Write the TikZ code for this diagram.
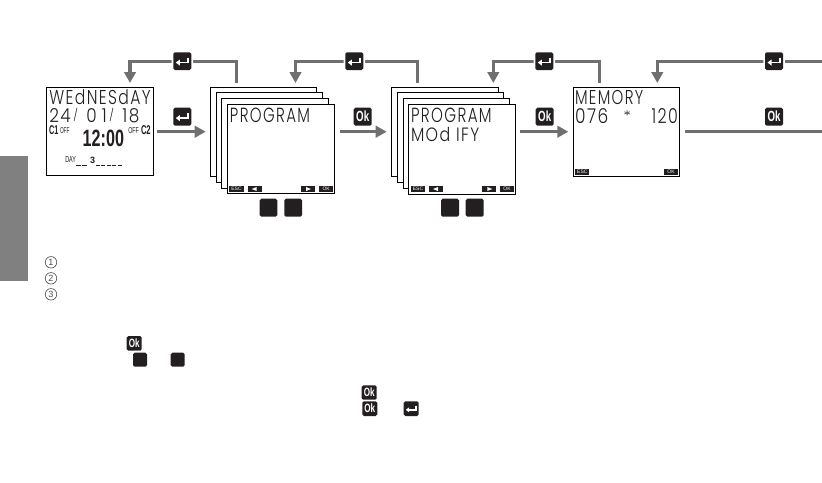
\documentclass[tikz,border=0pt]{standalone}
\usepackage{fontspec}
\usetikzlibrary{arrows.meta,calc}
\setmainfont{Liberation Sans}
\newfontfamily\lcdf[LetterSpace=9]{Poppins Light}
\definecolor{flow}{HTML}{6F6F6F}
\definecolor{keyk}{HTML}{231F20}
\definecolor{tab}{HTML}{808080}
\tikzset{
  x=1pt,y=-1pt,
  sheet/.style={draw=black,fill=white,line width=.9pt,inner sep=0pt},
  keybox/.style={fill=keyk,rounded corners=1.6pt,inner sep=0pt,preaction={draw=white,line width=3.5pt,rounded corners=1.6pt}},
  soft/.style={fill=keyk,inner sep=0pt,text=white},
  txt/.style={inner sep=0pt,text=keyk},
  flowline/.style={draw=flow,line width=3.5pt},
  flowarrow/.style={flowline,-{Triangle[length=11pt,width=11.5pt]}},
  num/.style={circle,draw=black!70,line width=.6pt,text=black!70,minimum size=11.5pt,inner sep=0pt,font=\fontsize{9}{9}\selectfont}
}
\newcommand{\rectnode}[6]{%
  \pgfmathsetmacro{\rw}{#5-#3}\pgfmathsetmacro{\rh}{#6-#4}%
  \pgfmathsetmacro{\rcx}{(#5+#3)/2}\pgfmathsetmacro{\rcy}{(#6+#4)/2}%
  \node[#1,minimum width=\rw pt,minimum height=\rh pt] (#2) at (\rcx,\rcy) {};}
\newcommand{\fittext}[7]{%
  \pgfmathsetmacro{\rw}{#5-#3}\pgfmathsetmacro{\rh}{#6-#4}%
  \pgfmathsetmacro{\rcx}{(#5+#3)/2}\pgfmathsetmacro{\rcy}{(#6+#4)/2}%
  \node[#1] (#2) at (\rcx,\rcy) {\resizebox*{\rw pt}{\rh pt}{#7}};}
\newcommand{\lcd}[6]{\fittext{txt}{#1}{#2}{#3}{#4}{#5}{\lcdf #6}}
\newcommand{\okkey}[5]{%
  \rectnode{keybox}{#1}{#2}{#3}{#4}{#5}%
  \pgfmathsetmacro{\kw}{(#4-#2)*.72}\pgfmathsetmacro{\kh}{(#5-#3)*.6}%
  \node[inner sep=0pt,text=white] at (#1) {\resizebox*{\kw pt}{\kh pt}{\bfseries Ok}};}
\newcommand{\enterkey}[5]{%
  \rectnode{keybox}{#1}{#2}{#3}{#4}{#5}%
  \pgfmathsetmacro{\ks}{(#4-#2)/18}%
  \begin{scope}[shift={(#1)},scale=\ks]
    \draw[white,line width=1.7pt] (6,-3.4) -- (6,1.4) -- (-3,1.4);
    \fill[white] (-6.5,1.4) -- (-2.5,-1.6) -- (-2.5,4.4) -- cycle;
  \end{scope}}
\newcommand{\softlabel}[6]{%
  \rectnode{soft}{#1}{#2}{#3}{#4}{#5}%
  \node[inner sep=0pt,text=white] at (#1) {\fontsize{5}{5}\selectfont #6};}
\newcommand{\softarrowL}[5]{%
  \rectnode{soft}{#1}{#2}{#3}{#4}{#5}%
  \fill[white] ([xshift=-3pt]#1.center) -- ++(5,-2) -- ++(0,4) -- cycle;}
\newcommand{\softarrowR}[5]{%
  \rectnode{soft}{#1}{#2}{#3}{#4}{#5}%
  \fill[white] ([xshift=3pt]#1.center) -- ++(-5,-2) -- ++(0,4) -- cycle;}
\newcommand{\lslash}{\kern.15em\raisebox{.18em}{\scalebox{.62}{/}}\kern.5em}
\begin{document}
\begin{tikzpicture}
\useasboundingbox (0,0) rectangle (822,482);
\fill[tab] (0,156) rectangle (28,281);

% first display
\rectnode{sheet}{home}{46.7}{87.7}{153.7}{175.3}
\lcd{homeA}{49.3}{90}{150.7}{105}{WEdNESdAY}
\lcd{homeB}{49.3}{108.3}{139.3}{123.3}{24\lslash 0\kern.3em 1\lslash 18}
\fittext{txt}{cOne}{49}{126}{58.3}{135}{\bfseries C1}
\fittext{txt}{offA}{60}{128}{69.5}{134}{OFF}
\fittext{txt}{clock}{82.7}{130}{124}{146.7}{\bfseries 12:00}
\fittext{txt}{offB}{128.3}{128}{139}{134}{OFF}
\fittext{txt}{cTwo}{141}{126}{150.7}{135}{\bfseries C2}
\fittext{txt}{dayL}{65.3}{156.7}{76}{162.7}{DAY}
\fittext{txt}{dayN}{90}{157.5}{95}{164}{\bfseries 3}
\coordinate (dashA) at (76,165.5);
\coordinate (dashB) at (88.5,165.5);
\coordinate (dashC) at (96,165.5);
\coordinate (dashD) at (121.7,165.5);
\draw[keyk,line width=.8pt,dash pattern=on 5pt off 1.4pt] (dashA) -- (dashB);
\draw[keyk,line width=.8pt,dash pattern=on 4pt off 1.4pt] (dashC) -- (dashD);

% PROGRAM stack
\rectnode{sheet}{pa}{210.3}{87.7}{316.7}{176.3}
\rectnode{sheet}{pb}{216.3}{92.3}{322.7}{182.3}
\rectnode{sheet}{pc}{221.7}{98.3}{328.7}{188}
\rectnode{sheet}{pd}{227.3}{104}{334.3}{193.7}
\lcd{pT}{230}{107.7}{310}{122.3}{PROGRAM}
\softlabel{pEsc}{229.3}{186}{243.7}{192}{ESC}
\softarrowL{pL}{247.7}{186}{261.7}{192}
\softarrowR{pR}{301}{186}{315}{192}
\softlabel{pOk}{319}{186}{333.3}{192}{OK}
\rectnode{keybox}{pk1}{259.7}{198.7}{277.3}{216.7}
\rectnode{keybox}{pk2}{284.3}{198.7}{302}{216.7}

% PROGRAM MODIFY stack
\rectnode{sheet}{ma}{391.3}{87.7}{498.7}{176.3}
\rectnode{sheet}{mb}{397.3}{92.3}{503.7}{182.3}
\rectnode{sheet}{mc}{403.3}{98.3}{509.7}{188}
\rectnode{sheet}{md}{408.3}{104}{515.7}{194}
\lcd{mT}{411}{107.7}{491.7}{122.3}{PROGRAM}
\lcd{mU}{411}{127.3}{479.3}{141.7}{MOd IFY}
\softlabel{mEsc}{411}{186}{425}{192}{ESC}
\softarrowL{mL}{429}{186}{443}{192}
\softarrowR{mR}{482.3}{186}{496.3}{192}
\softlabel{mOk}{500}{186}{514}{192}{OK}
\rectnode{keybox}{mk1}{441}{198.7}{459}{216.7}
\rectnode{keybox}{mk2}{465.7}{198.7}{483.7}{216.7}

% MEMORY display
\rectnode{sheet}{mem}{573.3}{87.7}{679.7}{176.3}
\lcd{memT}{575}{90.7}{643.3}{105}{MEMORY}
\lcd{memA}{575}{109}{608.3}{124}{076}
\lcd{memS}{623.3}{110.5}{631}{120}{*}
\lcd{memB}{651.7}{109}{678}{124}{120}
\softlabel{memEsc}{575.3}{169.3}{589.3}{174.7}{ESC}
\softlabel{memOk}{664}{169.3}{678}{174.7}{OK}

% return connectors
\coordinate (r1s) at (236.3,83.3);
\coordinate (r1c) at (236.3,61.7);
\coordinate (r1d) at (130,61.7);
\coordinate (r1e) at (130,83);
\draw[flowarrow] (r1s) -- (r1c) -- (r1d) -- (r1e);
\enterkey{ek1}{173.3}{52.3}{191.3}{70}
\coordinate (r2s) at (417.7,83.3);
\coordinate (r2c) at (417.7,61.7);
\coordinate (r2d) at (295.5,61.7);
\coordinate (r2e) at (295.5,83);
\draw[flowarrow] (r2s) -- (r2c) -- (r2d) -- (r2e);
\enterkey{ek2}{345.3}{52.3}{363.3}{70}
\coordinate (r3s) at (599.3,83.3);
\coordinate (r3c) at (599.3,61.7);
\coordinate (r3d) at (493.3,61.7);
\coordinate (r3e) at (493.3,83);
\draw[flowarrow] (r3s) -- (r3c) -- (r3d) -- (r3e);
\enterkey{ek3}{535.3}{52.3}{553.3}{70}
\coordinate (r4s) at (822,61.7);
\coordinate (r4d) at (657.3,61.7);
\coordinate (r4e) at (657.3,83);
\draw[flowarrow] (r4s) -- (r4d) -- (r4e);
\enterkey{ek4}{765}{52.3}{783}{70}

% forward connectors
\coordinate (f1s) at (157,131.7);
\coordinate (f1e) at (205.7,131.7);
\draw[flowarrow] (f1s) -- (f1e);
\enterkey{ek5}{173.3}{107.7}{191.3}{125.7}
\coordinate (f2s) at (339.5,131.7);
\coordinate (f2e) at (386.7,131.7);
\draw[flowarrow] (f2s) -- (f2e);
\okkey{ok1}{353.7}{107.7}{371.7}{125.7}
\coordinate (f3s) at (520.3,131.7);
\coordinate (f3e) at (568.3,131.7);
\draw[flowarrow] (f3s) -- (f3e);
\okkey{ok2}{535.7}{107.7}{553.7}{125.7}
\coordinate (f4s) at (685,131.7);
\coordinate (f4e) at (822,131.7);
\draw[flowline] (f4s) -- (f4e);
\okkey{ok3}{765}{107.7}{783}{125.7}

% numbered markers
\node[num] (n1) at (51,262.3) {1};
\node[num] (n2) at (51,278.3) {2};
\node[num] (n3) at (51,294.3) {3};

% inline keys
\okkey{ok4}{126.7}{336}{141.7}{350.7}
\rectnode{keybox}{ik1}{133}{352.7}{147}{366.7}
\rectnode{keybox}{ik2}{170.7}{352.7}{184.7}{366.7}
\okkey{ok5}{361.7}{385.3}{376.7}{400}
\okkey{ok6}{362.3}{401.3}{377.3}{416}
\enterkey{ek6}{403.7}{401.3}{418.7}{416}
\end{tikzpicture}
\end{document}
